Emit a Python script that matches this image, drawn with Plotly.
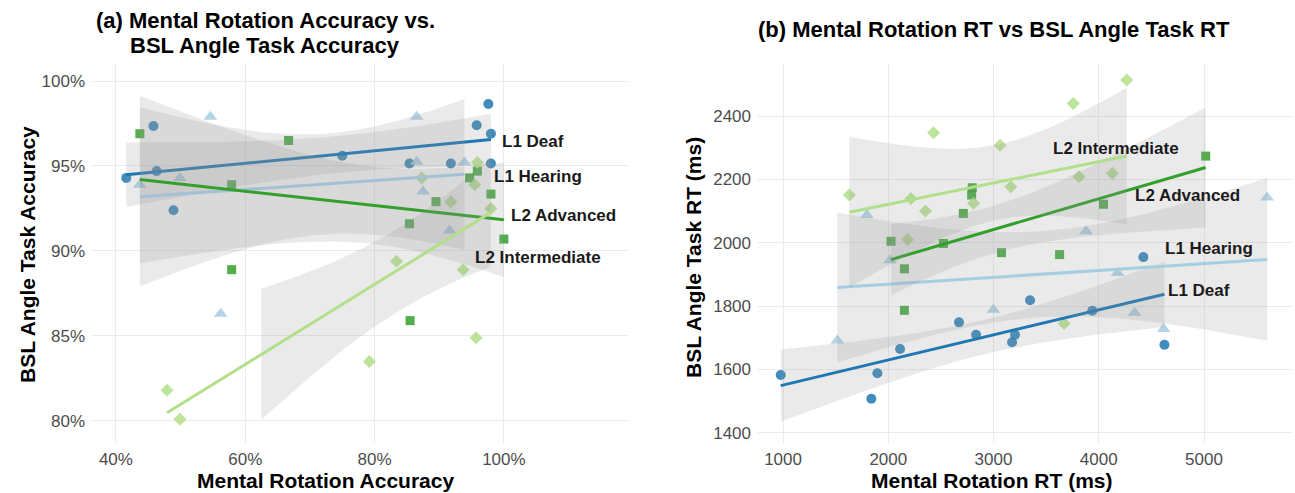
import numpy as np
import plotly.graph_objects as go

# ---------------- data ----------------
groups = ["L1 Deaf", "L1 Hearing", "L2 Advanced", "L2 Intermediate"]

# Panel (a): Mental rotation accuracy vs BSL angle task accuracy (proportions)
acc_mr = {
    "L1 Deaf": [0.416, 0.458, 0.463, 0.489, 0.750, 0.854, 0.918, 0.958, 0.976, 0.980, 0.980],
    "L1 Hearing": [0.437, 0.499, 0.546, 0.562, 0.865, 0.865, 0.875, 0.916, 0.939],
    "L2 Advanced": [0.437, 0.579, 0.579, 0.667, 0.854, 0.855, 0.895, 0.947, 0.959, 0.980, 1.000],
    "L2 Intermediate": [0.479, 0.499, 0.792, 0.834, 0.873, 0.918, 0.937, 0.955, 0.957, 0.959, 0.980],
}
acc_bsl = {
    "L1 Deaf": [0.943, 0.9735, 0.947, 0.924, 0.956, 0.9515, 0.9515, 0.974, 0.9865, 0.969, 0.9515],
    "L1 Hearing": [0.939, 0.943, 0.979, 0.863, 0.979, 0.9525, 0.935, 0.912, 0.952],
    "L2 Advanced": [0.969, 0.939, 0.889, 0.965, 0.916, 0.859, 0.929, 0.943, 0.947, 0.9335, 0.907],
    "L2 Intermediate": [0.818, 0.801, 0.835, 0.894, 0.943, 0.929, 0.889, 0.939, 0.849, 0.952, 0.925],
}

# Panel (b): Mental rotation RT vs BSL angle task RT (ms)
rt_mr = {
    "L1 Deaf": [978, 1839, 1896, 2112, 2672, 2834, 3176, 3204, 3347, 3939, 4424, 4624],
    "L1 Hearing": [1516, 1797, 2017, 2999, 3879, 4178, 4340, 4616, 5600],
    "L2 Advanced": [2026, 2153, 2153, 2524, 2713, 2792, 2798, 3076, 3628, 4045, 5016],
    "L2 Intermediate": [1630, 2183, 2215, 2353, 2430, 2810, 3062, 3164, 3670, 3758, 3812, 4129, 4266],
}
rt_bsl = {
    "L1 Deaf": [1583, 1508, 1588, 1665, 1749, 1710, 1686, 1710, 1819, 1786, 1955, 1678],
    "L1 Hearing": [1692, 2088, 1945, 1789, 2037, 1905, 1779, 1728, 2143],
    "L2 Advanced": [2005, 1918, 1787, 1998, 2093, 2151, 2174, 1969, 1963, 2122, 2274],
    "L2 Intermediate": [2151, 2011, 2140, 2101, 2348, 2125, 2308, 2177, 1745, 2440, 2209, 2220, 2514],
}

acc_x_ticks = [0.4, 0.6, 0.8, 1.0]
acc_y_ticks = [0.80, 0.85, 0.90, 0.95, 1.00]
rt_x_ticks = [1000, 2000, 3000, 4000, 5000]
rt_y_ticks = [1400, 1600, 1800, 2000, 2200, 2400]

# ---------------- styling ----------------
colors = {
    "L1 Deaf": "#1f78b4",
    "L1 Hearing": "#a6cee3",
    "L2 Advanced": "#33a02c",
    "L2 Intermediate": "#b2df8a",
}
symbols = {
    "L1 Deaf": ("circle", 10),
    "L1 Hearing": ("triangle-up", 12),
    "L2 Advanced": ("square", 9),
    "L2 Intermediate": ("diamond", 10),
}
FONT = "Liberation Sans"
W, H = 1295, 493

# two-sided 95% t quantiles by degrees of freedom
T975 = {5: 2.570582, 6: 2.446912, 7: 2.364624, 8: 2.306004, 9: 2.262157,
        10: 2.228139, 11: 2.200985, 12: 2.178813, 13: 2.160369}


def lm_band(x, y, n_grid=80):
    """Linear fit with 95% confidence band on a grid spanning the data."""
    x = np.asarray(x, float)
    y = np.asarray(y, float)
    n = len(x)
    slope, intercept = np.polyfit(x, y, 1)
    resid = y - (slope * x + intercept)
    s = np.sqrt(np.sum(resid ** 2) / (n - 2))
    sxx = np.sum((x - x.mean()) ** 2)
    gx = np.linspace(x.min(), x.max(), n_grid)
    fit = slope * gx + intercept
    se = s * np.sqrt(1.0 / n + (gx - x.mean()) ** 2 / sxx)
    t = T975[n - 2]
    return gx, fit, fit - t * se, fit + t * se


def segments(mask):
    """Contiguous runs of True in a boolean mask."""
    runs, start = [], None
    for i, m in enumerate(mask):
        if m and start is None:
            start = i
        if not m and start is not None:
            runs.append((start, i))
            start = None
    if start is not None:
        runs.append((start, len(mask)))
    return runs


fig = go.Figure()


def add_panel(xd, yd, xaxis, yaxis, limits=None):
    # points first
    for g in groups:
        sym, size = symbols[g]
        x = np.asarray(xd[g], float)
        y = np.asarray(yd[g], float)
        fig.add_trace(go.Scatter(
            x=x, y=y, mode="markers", xaxis=xaxis, yaxis=yaxis, showlegend=False,
            marker=dict(symbol=sym, size=size, color=colors[g], opacity=0.85,
                        line=dict(width=0)),
            hoverinfo="skip"))
    # then fitted line + confidence band for each group
    for g in groups:
        gx, fit, lo, hi = lm_band(xd[g], yd[g])
        if limits is not None:
            ok = (lo >= limits[0]) & (hi <= limits[1])
        else:
            ok = np.ones_like(gx, dtype=bool)
        for a, b in segments(ok):
            if b - a < 2:
                continue
            px = np.concatenate([gx[a:b], gx[a:b][::-1]])
            py = np.concatenate([hi[a:b], lo[a:b][::-1]])
            fig.add_trace(go.Scatter(
                x=px, y=py, mode="lines", fill="toself", xaxis=xaxis, yaxis=yaxis,
                fillcolor="rgba(150,150,150,0.2)", line=dict(width=0),
                showlegend=False, hoverinfo="skip"))
        fig.add_trace(go.Scatter(
            x=gx, y=fit, mode="lines", xaxis=xaxis, yaxis=yaxis, showlegend=False,
            line=dict(color=colors[g], width=3), hoverinfo="skip"))


add_panel(acc_mr, acc_bsl, "x", "y", limits=(0.80, 1.00))
add_panel(rt_mr, rt_bsl, "x2", "y2")

grid = "#ebebeb"
tickfont = dict(family=FONT, size=17, color="#4d4d4d")
ydom = [1 - 443 / H, 1 - 63 / H]

axis_common = dict(showgrid=True, gridcolor=grid, gridwidth=1, zeroline=False,
                   showline=False, ticks="", tickfont=tickfont, automargin=False)

fig.update_layout(
    width=W, height=H,
    margin=dict(l=0, r=0, t=0, b=0),
    paper_bgcolor="white", plot_bgcolor="white",
    showlegend=False,
    xaxis=dict(domain=[92 / W, 628 / W], range=[0.363, 1.192],
               tickvals=acc_x_ticks, ticktext=[f"{int(round(v * 100))}%" for v in acc_x_ticks],
               ticklabelstandoff=4, **axis_common),
    yaxis=dict(domain=ydom, range=[0.787, 1.0106],
               tickvals=acc_y_ticks, ticktext=[f"{int(round(v * 100))}%" for v in acc_y_ticks],
               ticklabelstandoff=6, **axis_common),
    xaxis2=dict(domain=[758 / W, 1292 / W], range=[762, 5836], anchor="y2",
                tickvals=rt_x_ticks, ticklabelstandoff=4, **axis_common),
    yaxis2=dict(domain=ydom, range=[1368, 2568], anchor="x2",
                tickvals=rt_y_ticks, ticklabelstandoff=6, **axis_common),
)

title_font = dict(family=FONT, size=22, color="black")
axis_title_font = dict(family=FONT, size=21, color="black")
label_font = dict(family=FONT, size=17, color="#1a1a1a")

anns = [
    # panel titles
    dict(text="<b>(a) Mental Rotation Accuracy vs.</b>", x=265 / W, y=1 - 20 / H, font=title_font),
    dict(text="<b>BSL Angle Task Accuracy</b>", x=265 / W, y=1 - 45 / H, font=title_font),
    dict(text="<b>(b) Mental Rotation RT vs BSL Angle Task RT</b>", x=994 / W, y=1 - 30 / H, font=title_font),
    # axis titles
    dict(text="<b>Mental Rotation Accuracy</b>", x=326 / W, y=1 - 480 / H, font=axis_title_font),
    dict(text="<b>Mental Rotation RT (ms)</b>", x=992 / W, y=1 - 480 / H, font=axis_title_font),
    dict(text="<b>BSL Angle Task Accuracy</b>", x=27 / W, y=1 - 255 / H, font=axis_title_font, textangle=-90),
    dict(text="<b>BSL Angle Task RT (ms)</b>", x=693 / W, y=1 - 258 / H, font=axis_title_font, textangle=-90),
]
for a in anns:
    a.update(xref="paper", yref="paper", showarrow=False, xanchor="center", yanchor="middle")
    fig.add_annotation(**a)

# group labels next to the fitted lines (left-aligned text)
group_labels = [
    ("x", "y", "L1 Deaf", 0.9933, 0.9647),
    ("x", "y", "L1 Hearing", 0.9816, 0.9441),
    ("x", "y", "L2 Advanced", 1.0073, 0.9206),
    ("x", "y", "L2 Intermediate", 0.9515, 0.8963),
    ("x2", "y2", "L2 Intermediate", 3543, 2299),
    ("x2", "y2", "L2 Advanced", 4328, 2150),
    ("x2", "y2", "L1 Hearing", 4613, 1981),
    ("x2", "y2", "L1 Deaf", 4639, 1850),
]
for xr, yr, txt, x, y in group_labels:
    fig.add_annotation(text=f"<b>{txt}</b>", x=x, y=y, xref=xr, yref=yr,
                       showarrow=False, xanchor="left", yanchor="middle", font=label_font)

fig.write_html("out.html")
